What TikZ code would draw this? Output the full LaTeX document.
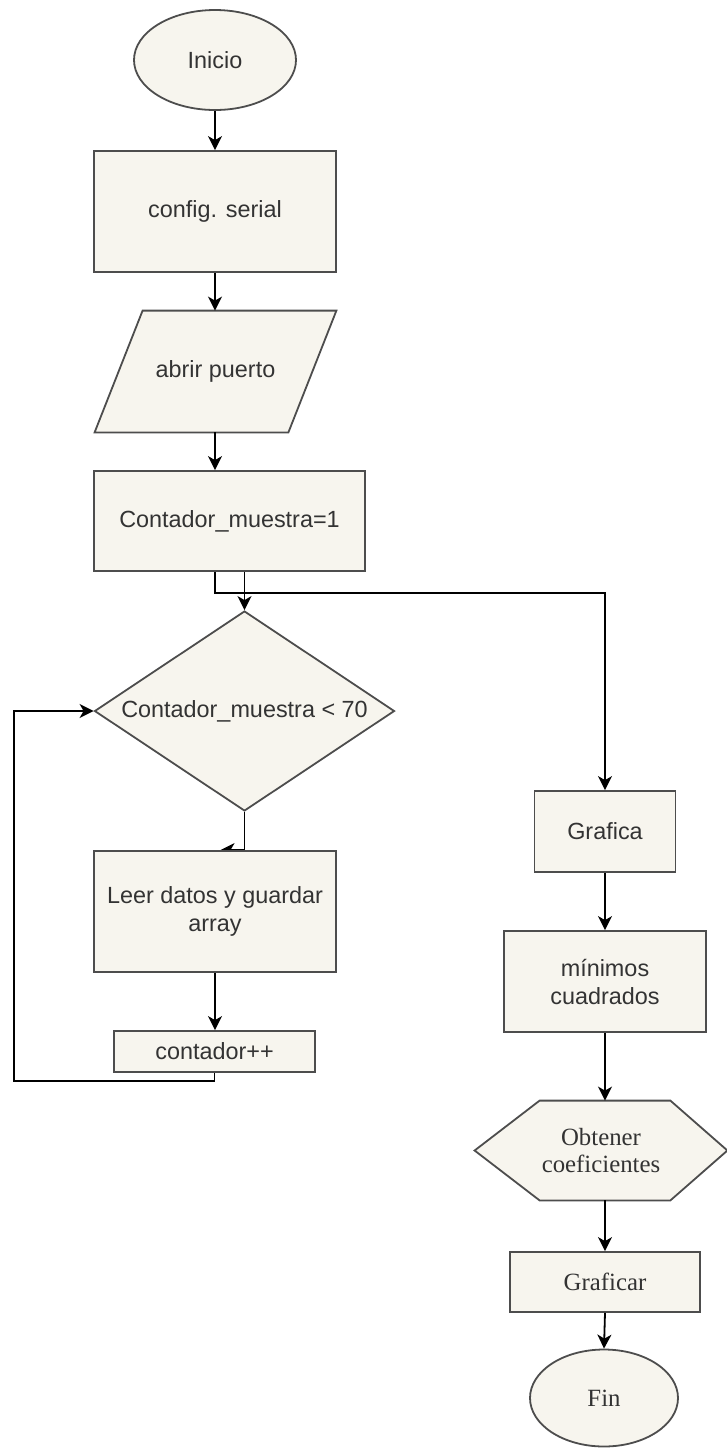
\documentclass[tikz,border=0pt]{standalone}
\usepackage{fontspec}
\setmainfont{Liberation Sans}
\newfontfamily\serifface{Liberation Serif}
\usetikzlibrary{shapes.geometric,arrows.meta,calc,backgrounds}
\definecolor{boxfill}{HTML}{F7F5EE}
\definecolor{boxline}{HTML}{4D4D4D}
\definecolor{txtcol}{HTML}{333333}
\begin{document}
\begin{tikzpicture}[x=0.5pt,y=-0.5pt,
  shp/.style={draw=boxline, fill=boxfill, line width=0.9pt, text=txtcol, inner sep=0pt, align=center, font=\fontsize{11.7}{14}\selectfont},
  procbox/.style={shp, rectangle},
  oval/.style={shp, ellipse},
  ghost/.style={rectangle, inner sep=0pt, text=txtcol, align=center, font=\fontsize{11.7}{14}\selectfont},
  serif/.style={font=\serifface\fontsize{12.4}{13.2}\selectfont},
  outline/.style={draw=boxline, fill=boxfill, line width=0.9pt},
  conn/.style={line width=0.9pt, black},
  arr/.style={conn, -{Stealth[length=7pt,width=7pt,inset=2pt]}},
]
\useasboundingbox (0,0) rectangle (727,1448);

% left column
\node[oval, minimum width=81pt, minimum height=50pt] (ini) at (215,60) {Inicio};
\node[procbox, minimum width=121pt, minimum height=60.5pt] (cfg) at (215,211.5) {config. serial};
\node[ghost, minimum width=120.5pt, minimum height=60.5pt] (abr) at (215.5,371.5) {abrir puerto};
\node[procbox, minimum width=135.5pt, minimum height=50pt] (c1) at (229.5,521) {Contador\_muestra=1};
\node[shp, diamond, minimum width=150pt, minimum height=100pt] (dec) at (244.5,711) {};
\node[ghost] (dectxt) at (dec) {Contador\_muestra < 70};
\node[procbox, minimum width=121pt, minimum height=60.5pt] (leer) at (215,911.5) {Leer datos y guardar\\array};
\node[procbox, minimum width=100.5pt, minimum height=20.5pt] (cnt) at (214.5,1051.5) {contador++};
\coordinate (loopc) at (14,1081);

% right column
\node[procbox, minimum width=70.5pt, minimum height=40.5pt] (gra) at (605,831.5) {Grafica};
\node[procbox, minimum width=101pt, minimum height=50.5pt] (mc) at (605,981.5) {mínimos\\cuadrados};
\node[ghost, serif, minimum width=126pt, minimum height=49.5pt] (hex) at (601,1150.5) {Obtener\\coeficientes};
\node[procbox, serif, minimum width=95pt, minimum height=30pt] (grf) at (605,1282) {Graficar};
\node[oval, serif, minimum width=74pt, minimum height=48.5pt] (fin) at (604,1398) {Fin};

\begin{scope}[on background layer]
  \draw[outline] ($(abr.north west)+(48,0)$) -- (abr.north east) -- ($(abr.south east)+(-48,0)$) -- (abr.south west) -- cycle;
  \draw[outline] (hex.west) -- ($(hex.north west)+(65,0)$) -- ($(hex.north east)+(-57,0)$) -- (hex.east) -- ($(hex.south east)+(-57,0)$) -- ($(hex.south west)+(65,0)$) -- cycle;
  \draw[arr] (dec.south) -- (dec.south |- leer.north) -- ++(-24,0);
\end{scope}

% connectors
\draw[arr] (ini.south) -- (cfg.north);
\draw[arr] (cfg.south) -- (cfg.south |- abr.north);
\draw[arr] (cfg.south |- abr.south) -- (cfg.south |- c1.north);
\draw[arr] (c1.south -| dec.north) -- (dec.north);
\draw[arr] (c1.south -| cfg.south) -- ++(0,21) -| (gra.north);
\draw[arr] (leer.south) -- (leer.south |- cnt.north);
\draw[arr] (cnt.south) |- (loopc) |- (dec.west);
\draw[arr] (gra.south) -- (mc.north);
\draw[arr] (mc.south) -- (mc.south |- hex.north);
\draw[arr] (mc.south |- hex.south) -- (grf.north);
\draw[arr] (grf.south) -- (fin.north);
\end{tikzpicture}
\end{document}
